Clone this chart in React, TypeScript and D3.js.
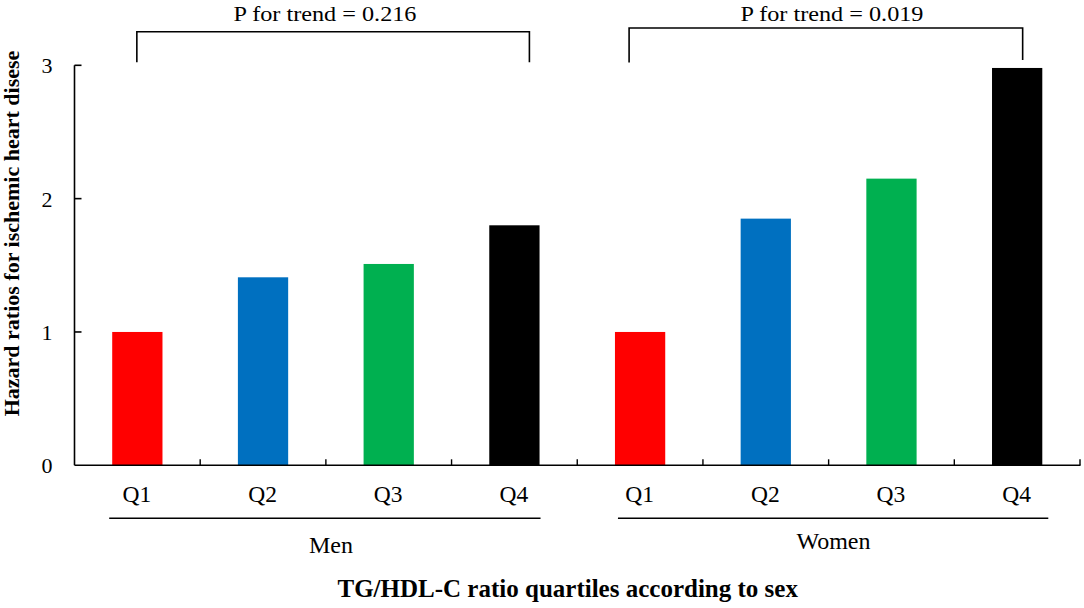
import React from "react";
import * as d3 from "d3";

const quartiles = ["Q1", "Q2", "Q3", "Q4"];
const groups = ["Men", "Women"];
const menValues = [1.0, 1.41, 1.51, 1.8];
const womenValues = [1.0, 1.85, 2.15, 2.98];
const barColors = ["#FF0000", "#0070C0", "#00B050", "#000000"];
const yTicks = [0, 1, 2, 3];
const trendLabels = ["P for trend = 0.216", "P for trend = 0.019"];
const yTitle = "Hazard  ratios for ischemic heart disese";
const xTitle = "TG/HDL-C ratio quartiles according to sex";

const W = 1084;
const H = 608;
const FONT = "Liberation Serif, Times New Roman, serif";
const txt = (size: number, bold = false): React.CSSProperties => ({
  fontFamily: FONT,
  fontSize: `${size}px`,
  fontWeight: bold ? 700 : 400,
});

export default function App() {
  const keys = groups.flatMap((g) => quartiles.map((q) => `${g}-${q}`));
  const valuesByGroup = [menValues, womenValues];
  const data = groups.flatMap((g, gi) =>
    quartiles.map((q, qi) => ({
      key: `${g}-${q}`,
      group: g,
      q,
      qi,
      value: valuesByGroup[gi][qi],
    }))
  );

  const x = d3
    .scaleBand<string>()
    .domain(keys)
    .range([74.5, 1080])
    .paddingInner(0.6)
    .paddingOuter(0.3);
  const y = d3.scaleLinear().domain([0, 3]).range([465.3, 65.3]);

  const step = x.step();
  const x0 = 74.5;
  const boundaries = keys.map((_, i) => x0 + (i + 1) * step);
  const cx = (k: string) => (x(k) ?? 0) + x.bandwidth() / 2;

  const brackets = [
    {
      label: trendLabels[0],
      x1: cx("Men-Q1") - 0.5,
      x2: cx("Men-Q4") + 15,
      top: 31.7,
      b1: 62.3,
      b2: 62.3,
      tx: 325,
    },
    {
      label: trendLabels[1],
      x1: cx("Women-Q1") - 11,
      x2: cx("Women-Q4") + 5.5,
      top: 28,
      b1: 62.5,
      b2: 60,
      tx: 832,
    },
  ];

  const underlines = [
    { label: "Men", x1: (x("Men-Q1") ?? 0) - 3, x2: (x("Men-Q4") ?? 0) + x.bandwidth() + 1, tx: 331, ty: 553.3 },
    { label: "Women", x1: (x("Women-Q1") ?? 0) + 3, x2: (x("Women-Q4") ?? 0) + x.bandwidth() + 6, tx: 833.5, ty: 548.5 },
  ];

  return (
    <svg
      width={W}
      height={H}
      style={{ position: "absolute", left: 0, top: 0, background: "#fff", display: "block" }}
    >
      <rect x={0} y={0} width={W} height={H} fill="#fff" />

      {/* bars */}
      {data.map((d) => (
        <rect
          key={d.key}
          x={x(d.key)}
          y={y(d.value)}
          width={x.bandwidth()}
          height={y(0) - y(d.value)}
          fill={barColors[d.qi]}
        />
      ))}

      {/* y axis */}
      <line x1={x0} x2={x0} y1={y(0)} y2={y(3)} stroke="#000" strokeWidth={1.6} />
      {yTicks.map((t) => (
        <g key={t}>
          {t > 0 && <line x1={x0} x2={x0 + 7} y1={y(t)} y2={y(t)} stroke="#000" strokeWidth={1.6} />}
          <text x={47} y={y(t) + 8} style={txt(22)} textAnchor="middle" fill="#000">
            {t}
          </text>
        </g>
      ))}

      {/* x axis */}
      <line x1={x0} x2={1080.5} y1={y(0)} y2={y(0)} stroke="#000" strokeWidth={1.6} />
      {boundaries.map((b, i) => (
        <line key={i} x1={b} x2={b} y1={y(0)} y2={y(0) - 6} stroke="#000" strokeWidth={1.4} />
      ))}
      {data.map((d) => (
        <text key={d.key + "-l"} x={cx(d.key) - 0.5} y={502.3} style={txt(23.5)} textAnchor="middle" fill="#000">
          {d.q}
        </text>
      ))}

      {/* group underlines */}
      {underlines.map((u) => (
        <g key={u.label}>
          <line x1={u.x1} x2={u.x2} y1={518.3} y2={518.3} stroke="#000" strokeWidth={1.5} />
          <text x={u.tx} y={u.ty} style={txt(24)} textAnchor="middle" fill="#000">
            {u.label}
          </text>
        </g>
      ))}

      {/* trend brackets */}
      {brackets.map((b) => (
        <g key={b.label}>
          <path
            d={`M${b.x1},${b.b1} L${b.x1},${b.top} L${b.x2},${b.top} L${b.x2},${b.b2}`}
            fill="none"
            stroke="#000"
            strokeWidth={1.6}
          />
          <text
            x={b.tx}
            y={20.5}
            style={txt(21)}
            textAnchor="middle"
            textLength={183}
            lengthAdjust="spacingAndGlyphs"
            fill="#000"
          >
            {b.label}
          </text>
        </g>
      ))}

      {/* axis titles */}
      <text
        transform={`translate(18.5, 233.5) rotate(-90)`}
        style={txt(22, true)}
        textAnchor="middle"
        fill="#000"
      >
        {yTitle}
      </text>
      <text x={567.7} y={597} style={txt(25, true)} textAnchor="middle" fill="#000">
        {xTitle}
      </text>
    </svg>
  );
}
